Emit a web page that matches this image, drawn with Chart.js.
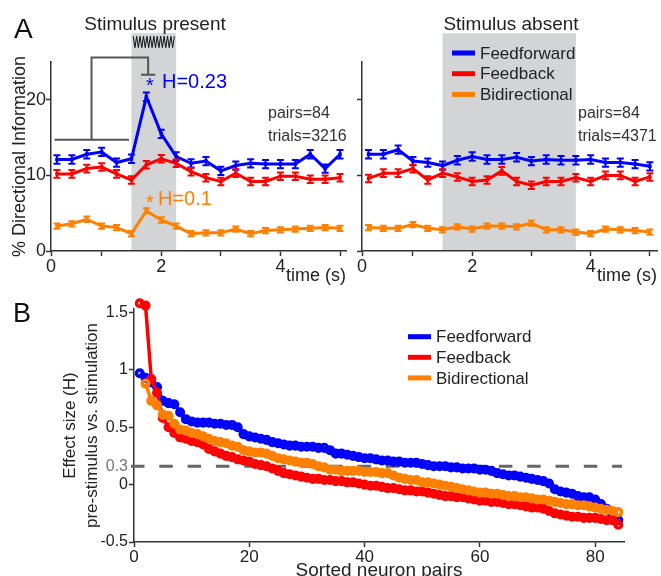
<!DOCTYPE html>
<html>
<head>
<meta charset="utf-8">
<script src="https://cdn.jsdelivr.net/npm/chart.js@4.4.1/dist/chart.umd.min.js"></script>
<style>
  body { margin: 0; background: #fff; width: 661px; height: 576px; position: relative; overflow: hidden; }
  canvas { position: absolute; }
</style>
</head>
<body>
<canvas id="presentChart" width="350" height="290" style="left:0;top:0"></canvas>
<canvas id="absentChart" width="310" height="290" style="left:351px;top:0"></canvas>
<canvas id="effectChart" width="661" height="286" style="left:0;top:290px"></canvas>
<script>
const FONT = '"Liberation Sans", Arial, sans-serif';
Chart.defaults.font.family = FONT;
Chart.defaults.color = '#222';

// ---- panel A: % directional information per time bin ----
const timeBins = [0.25, 0.5, 0.75, 1.0, 1.25, 1.5, 1.75, 2.0, 2.25, 2.5,
                  2.75, 3.0, 3.25, 3.5, 3.75, 4.0, 4.25, 4.5, 4.75, 5.0];

const presentFF = [12.1, 12.1, 12.8, 13.1, 11.7, 12.2, 20.4, 15.5, 12.5, 11.6,
                   11.9, 10.6, 11.3, 11.6, 11.5, 11.5, 11.5, 12.8, 10.9, 12.8];
const presentFB = [10.2, 10.2, 10.9, 11.1, 10.2, 9.4, 11.4, 12.2, 11.6, 10.5,
                   9.7, 9.2, 10.3, 9.2, 9.2, 9.9, 9.9, 9.5, 9.5, 9.7];
const presentBI = [3.3, 3.6, 4.2, 3.3, 3.1, 2.3, 5.3, 4.1, 3.3, 2.3,
                   2.4, 2.4, 2.9, 2.3, 2.7, 2.8, 2.9, 3.0, 3.1, 3.0];

const absentFF = [12.8, 12.8, 13.4, 11.9, 11.7, 11.3, 12.0, 12.5, 12.1, 12.1,
                  12.4, 11.9, 12.1, 12.0, 12.0, 12.1, 11.7, 11.7, 11.5, 11.2];
const absentFB = [9.6, 10.3, 10.3, 10.9, 9.4, 10.3, 9.8, 9.2, 9.4, 10.6,
                  9.2, 8.7, 9.2, 9.2, 9.7, 9.2, 10.0, 10.0, 9.2, 9.8];
const absentBI = [3.1, 3.0, 3.0, 3.5, 3.0, 2.8, 3.2, 2.9, 3.3, 3.3,
                  3.2, 3.7, 2.8, 2.8, 2.5, 2.3, 2.9, 2.8, 2.7, 2.5];

const seriesNames = ['Feedforward', 'Feedback', 'Bidirectional'];
const seriesColors = ['#0000ff', '#ff0000', '#ff8000'];
const errA = [0.55, 0.5, 0.35];

const stimPresent = [1.5, 2.25];
const stimAbsent = [1.5, 3.75];
const xTicksPresent = [0.15, 1, 2, 3, 4, 5];
const xTicksAbsent = [0.14, 1, 2, 3, 4, 5];
const xTickLabelsA = ['0', '', '2', '', '4', ''];
const yTicksA = [0, 10, 20];

// ---- panel B: effect size per sorted neuron pair ----
const ffB = [0.97, 0.93, 0.89, 0.85, 0.73, 0.71, 0.70, 0.63, 0.57, 0.55,
             0.54, 0.54, 0.54, 0.53, 0.53, 0.52, 0.52, 0.50, 0.44, 0.42,
             0.41, 0.40, 0.39, 0.37, 0.36, 0.35, 0.34, 0.34, 0.33, 0.33,
             0.33, 0.32, 0.32, 0.30, 0.27, 0.27, 0.26, 0.25, 0.24, 0.23,
             0.23, 0.22, 0.21, 0.21, 0.20, 0.20, 0.19, 0.19, 0.19, 0.18,
             0.17, 0.16, 0.16, 0.16, 0.15, 0.15, 0.14, 0.14, 0.14, 0.13,
             0.13, 0.12, 0.10, 0.09, 0.08, 0.08, 0.07, 0.06, 0.05, 0.04,
             0.03, 0.01, -0.04, -0.06, -0.07, -0.08, -0.10, -0.11, -0.11, -0.13,
             -0.17, -0.21, -0.26, -0.31];
const fbB = [1.58, 1.56, 0.92, 0.80, 0.58, 0.50, 0.45, 0.41, 0.40, 0.38,
             0.37, 0.35, 0.31, 0.29, 0.27, 0.25, 0.24, 0.22, 0.21, 0.20,
             0.18, 0.17, 0.16, 0.14, 0.12, 0.10, 0.09, 0.08, 0.07, 0.06,
             0.05, 0.05, 0.04, 0.04, 0.03, 0.03, 0.02, 0.02, 0.01, 0.00,
             -0.01, -0.01, -0.02, -0.03, -0.03, -0.04, -0.05, -0.05, -0.06, -0.06,
             -0.07, -0.08, -0.09, -0.10, -0.10, -0.11, -0.11, -0.12, -0.13, -0.14,
             -0.14, -0.15, -0.15, -0.16, -0.17, -0.17, -0.18, -0.19, -0.20, -0.20,
             -0.21, -0.23, -0.25, -0.26, -0.27, -0.28, -0.28, -0.29, -0.29, -0.29,
             -0.30, -0.31, -0.31, -0.35];
const biB = [null, 0.88, 0.73, 0.69, 0.61, 0.60, 0.53, 0.48, 0.47, 0.45,
             0.44, 0.42, 0.40, 0.38, 0.37, 0.36, 0.34, 0.33, 0.30, 0.29,
             0.28, 0.28, 0.27, 0.25, 0.23, 0.22, 0.21, 0.20, 0.19, 0.19,
             0.18, 0.16, 0.15, 0.13, 0.13, 0.12, 0.12, 0.12, 0.12, 0.11,
             0.11, 0.11, 0.10, 0.10, 0.08, 0.06, 0.05, 0.04, 0.04, 0.02,
             0.02, 0.01, 0.00, -0.01, -0.02, -0.03, -0.04, -0.05, -0.06, -0.07,
             -0.07, -0.08, -0.08, -0.09, -0.10, -0.10, -0.11, -0.11, -0.12, -0.13,
             -0.13, -0.14, -0.15, -0.16, -0.17, -0.17, -0.18, -0.18, -0.19, -0.20,
             -0.21, -0.22, -0.23, -0.24];
const xTicksB = [0, 20, 40, 60, 80];
const yTicksB = [-0.5, 0, 0.16, 0.5, 1, 1.5];
const yTickLabelsB = ['-0.5', '0', '0.3', '0.5', '1', '1.5'];

function txt(ctx, s, x, y, size, color, align, baseline) {
    ctx.font = size + 'px ' + FONT;
    ctx.fillStyle = color;
    ctx.textAlign = align || 'left';
    ctx.textBaseline = baseline || 'alphabetic';
    ctx.fillText(s, x, y);
}

function drawLegend(ctx, x, y0, step, size) {
    seriesNames.forEach((name, i) => {
        const y = y0 + i * step;
        ctx.strokeStyle = seriesColors[i];
        ctx.lineWidth = 5;
        ctx.beginPath(); ctx.moveTo(x, y); ctx.lineTo(x + 23, y); ctx.stroke();
        txt(ctx, name, x + 28, y + 1, size, '#222', 'left', 'middle');
    });
}

// grey stimulus window behind the traces
const stimShade = {
    id: 'stimShade',
    beforeDraw(chart, args, opts) {
        const { ctx, chartArea, scales: { x, y } } = chart;
        const x0 = x.getPixelForValue(opts.range[0]);
        const x1 = x.getPixelForValue(opts.range[1]);
        const top = y.getPixelForValue(28.8);
        ctx.save();
        ctx.fillStyle = '#d2d4d6';
        ctx.fillRect(x0, top, x1 - x0, chartArea.bottom - top);
        ctx.restore();
    }
};

const errorBars = {
    id: 'errorBars',
    afterDatasetsDraw(chart) {
        const { ctx, scales: { x, y } } = chart;
        ctx.save();
        ctx.lineWidth = 2;
        chart.data.datasets.forEach(ds => {
            ctx.strokeStyle = ds.borderColor;
            ctx.beginPath();
            ds.data.forEach(p => {
                const px = x.getPixelForValue(p.x);
                const lo = y.getPixelForValue(p.y - ds.err);
                const hi = y.getPixelForValue(p.y + ds.err);
                ctx.moveTo(px, lo); ctx.lineTo(px, hi);
                ctx.moveTo(px - 3.5, lo); ctx.lineTo(px + 3.5, lo);
                ctx.moveTo(px - 3.5, hi); ctx.lineTo(px + 3.5, hi);
            });
            ctx.stroke();
        });
        ctx.restore();
    }
};

const presentDecor = {
    id: 'presentDecor',
    afterDraw(chart) {
        const { ctx, scales: { x, y } } = chart;
        const P = (t, v) => [x.getPixelForValue(t), y.getPixelForValue(v)];
        ctx.save();
        // stimulus waveform
        const [xa, yt] = P(1.53, 28.4);
        const [xb, yb] = P(2.22, 26.9);
        const teeth = 12;
        ctx.strokeStyle = '#111';
        ctx.lineWidth = 1;
        ctx.beginPath();
        for (let k = 0; k <= teeth * 2; k++) {
            const px = xa + (xb - xa) * k / (teeth * 2);
            const py = k % 2 ? yb : yt;
            if (k) ctx.lineTo(px, py); else ctx.moveTo(px, py);
        }
        ctx.stroke();
        // comparison bracket
        ctx.strokeStyle = '#555';
        ctx.lineWidth = 2;
        ctx.beginPath();
        ctx.moveTo(...P(0.21, 14.7)); ctx.lineTo(...P(1.46, 14.7));
        ctx.moveTo(...P(0.83, 14.7)); ctx.lineTo(...P(0.83, 25.6));
        ctx.lineTo(...P(1.78, 25.6)); ctx.lineTo(...P(1.78, 23.3));
        ctx.moveTo(...P(1.66, 23.3)); ctx.lineTo(...P(1.90, 23.3));
        ctx.stroke();

        txt(ctx, 'A', 14, 38, 28, '#111');
        txt(ctx, 'Stimulus present', 155, 30, 19, '#222', 'center');
        txt(ctx, '*', 150, 92, 20, seriesColors[0], 'center');
        txt(ctx, 'H=0.23', 162, 88, 20, seriesColors[0]);
        txt(ctx, '*', 150, 209, 20, seriesColors[2], 'center');
        txt(ctx, 'H=0.1', 158, 205, 20, seriesColors[2]);
        txt(ctx, 'pairs=84', 268, 118, 16, '#333');
        txt(ctx, 'trials=3216', 268, 141, 16, '#333');
        ctx.restore();
    }
};

const absentDecor = {
    id: 'absentDecor',
    afterDraw(chart) {
        const { ctx } = chart;
        ctx.save();
        txt(ctx, 'Stimulus absent', 160, 30, 19, '#222', 'center');
        drawLegend(ctx, 101, 53, 20.7, 17);
        txt(ctx, 'pairs=84', 227, 118, 16, '#333');
        txt(ctx, 'trials=4371', 227, 141, 16, '#333');
        ctx.restore();
    }
};

function axisLook(size) {
    return {
        border: { color: '#333', width: 1.5 },
        grid: { drawOnChartArea: false, color: '#333', tickLength: 5, tickWidth: 1.5 },
        ticks: { color: '#222', font: { size: size }, autoSkip: false, maxRotation: 0 }
    };
}

function makeTimeChart(id, values, xTicks, xMax, stim, yWidth, yTitle, pad, decor) {
    const xAxis = axisLook(18);
    const yAxis = axisLook(18);
    return new Chart(document.getElementById(id), {
        type: 'line',
        data: {
            datasets: values.map((vals, i) => ({
                label: seriesNames[i],
                data: timeBins.map((t, j) => ({ x: t, y: vals[j] })),
                err: errA[i],
                borderColor: seriesColors[i],
                backgroundColor: seriesColors[i],
                borderWidth: 3,
                pointStyle: 'rect',
                pointRadius: 2.5,
                pointBorderWidth: 0,
                tension: 0
            }))
        },
        options: {
            responsive: false,
            animation: false,
            devicePixelRatio: 1,
            layout: { padding: pad },
            plugins: { legend: { display: false }, tooltip: { enabled: false }, stimShade: { range: stim } },
            scales: {
                x: Object.assign(xAxis, {
                    type: 'linear', min: xTicks[0], max: xMax,
                    afterBuildTicks: s => { s.ticks = xTicks.map(v => ({ value: v })); },
                    afterFit: s => { s.height = 39; },
                    ticks: Object.assign(xAxis.ticks, { padding: 0, callback: (v, i) => xTickLabelsA[i] }),
                    title: { display: true, text: 'time (s)', align: 'end', color: '#222',
                             font: { size: 18 }, padding: { top: 0, bottom: 3 } }
                }),
                y: Object.assign(yAxis, {
                    min: 0, max: 25,
                    afterBuildTicks: s => { s.ticks = yTicksA.map(v => ({ value: v })); },
                    afterFit: s => { s.width = yWidth; },
                    ticks: Object.assign(yAxis.ticks, { padding: 0, callback: v => (yTitle ? String(v) : '') }),
                    title: { display: !!yTitle, text: yTitle, color: '#222',
                             font: { size: 18 }, padding: { top: 9, bottom: 0 } }
                })
            }
        },
        plugins: [stimShade, errorBars, decor]
    });
}

makeTimeChart('presentChart', [presentFF, presentFB, presentBI], xTicksPresent, 5.1, stimPresent,
    51, '% Directional Information', { top: 62, right: 2, left: 0, bottom: 0 }, presentDecor);
makeTimeChart('absentChart', [absentFF, absentFB, absentBI], xTicksAbsent, 5.12, stimAbsent,
    11, '', { top: 62, right: 0, left: 0, bottom: 0 }, absentDecor);

// ---- panel B ----
const thresholdLine = {
    id: 'thresholdLine',
    beforeDatasetsDraw(chart) {
        const { ctx, chartArea, scales: { y } } = chart;
        const py = y.getPixelForValue(yTicksB[2]);
        ctx.save();
        ctx.strokeStyle = '#666';
        ctx.lineWidth = 3;
        ctx.setLineDash([13.5, 14.8]);
        ctx.beginPath();
        ctx.moveTo(chartArea.left - 3, py);
        ctx.lineTo(chartArea.right - 2, py);
        ctx.stroke();
        ctx.restore();
    },
    afterDraw(chart) {
        const { ctx } = chart;
        ctx.save();
        txt(ctx, 'B', 13, 32, 27, '#111');
        drawLegend(ctx, 408, 46.7, 20.6, 17);
        ctx.restore();
    }
};

const bx = axisLook(17);
const by = axisLook(16);
const drawOrder = [3, 2, 1];
new Chart(document.getElementById('effectChart'), {
    type: 'line',
    data: {
        datasets: [ffB, fbB, biB].map((vals, i) => ({
            label: seriesNames[i],
            data: vals.map((v, j) => ({ x: j + 1, y: v })),
            order: drawOrder[i],
            borderColor: seriesColors[i],
            pointBorderColor: seriesColors[i],
            pointBackgroundColor: 'rgba(255,255,255,0)',
            borderWidth: 3.5,
            pointRadius: 3.3,
            pointBorderWidth: 3.5,
            tension: 0,
            clip: false
        }))
    },
    options: {
        responsive: false,
        animation: false,
        devicePixelRatio: 1,
        layout: { padding: { top: 19, left: 60, right: 37, bottom: 0 } },
        plugins: { legend: { display: false }, tooltip: { enabled: false } },
        scales: {
            x: Object.assign(bx, {
                type: 'linear', min: 0, max: 85,
                afterBuildTicks: s => { s.ticks = xTicksB.map(v => ({ value: v })); },
                afterFit: s => { s.height = 34; },
                ticks: Object.assign(bx.ticks, { padding: 0 }),
                title: { display: true, text: 'Sorted neuron pairs', color: '#222',
                         font: { size: 19, lineHeight: 0.6 }, padding: 0 }
            }),
            y: Object.assign(by, {
                min: -0.5, max: 1.53,
                afterBuildTicks: s => { s.ticks = yTicksB.map(v => ({ value: v })); },
                afterFit: s => { s.width = 74; },
                grid: Object.assign(by.grid, { tickColor: c => (c.index === 2 ? 'rgba(0,0,0,0)' : '#333') }),
                ticks: Object.assign(by.ticks, {
                    padding: 1,
                    color: c => (c.index === 2 ? '#777' : '#222'),
                    callback: (v, i) => yTickLabelsB[i]
                }),
                title: { display: true, text: ['Effect size (H)', 'pre-stimulus vs. stimulation'], color: '#222',
                         font: { size: 17, lineHeight: 1.25 }, padding: { top: 0, bottom: 0 } }
            })
        }
    },
    plugins: [thresholdLine]
});
</script>
</body>
</html>
